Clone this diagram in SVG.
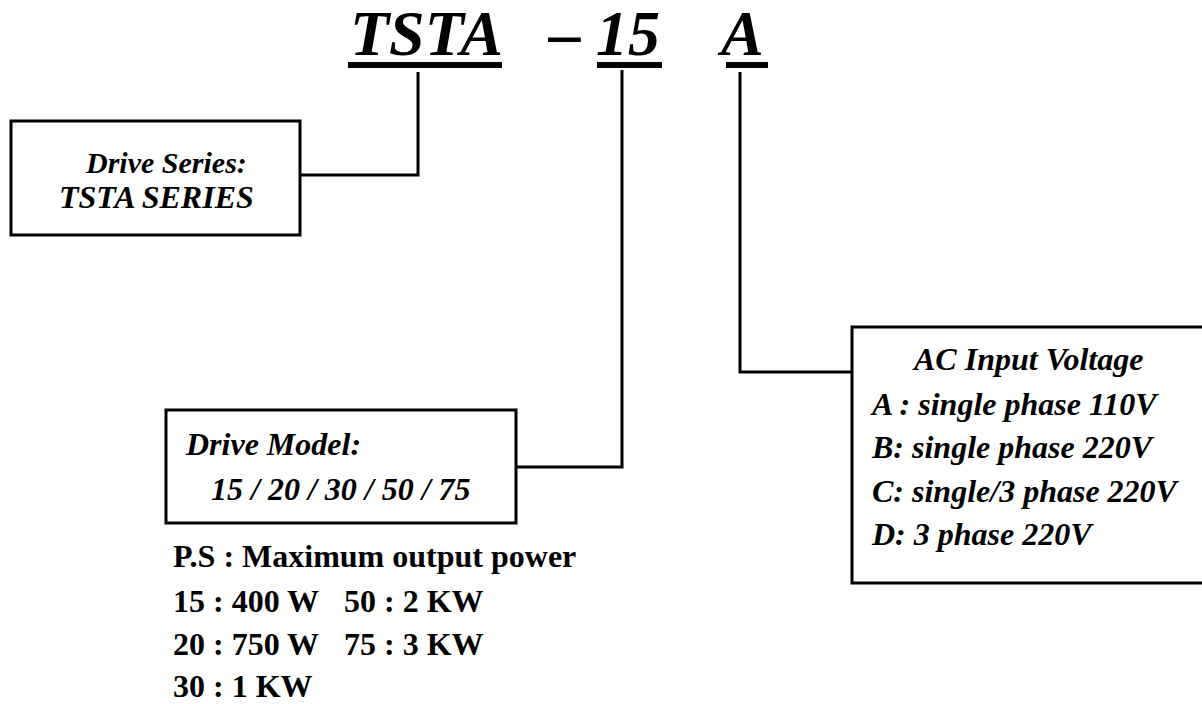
<svg xmlns="http://www.w3.org/2000/svg" width="1202" height="704" viewBox="0 0 1202 704">
<style>
.bi{font-family:"Liberation Serif","Times New Roman",serif;font-weight:bold;font-style:italic;fill:#000;font-size:32px}
.b{font-family:"Liberation Serif","Times New Roman",serif;font-weight:bold;fill:#000;font-size:32px}
.t{font-size:64px}
.s30{font-size:30px}
.box{fill:#fff;stroke:#000;stroke-width:3}
.con{fill:none;stroke:#000;stroke-width:3}
.ul{stroke:#000;stroke-width:6}
</style>
<rect width="1202" height="704" fill="#fff"/>
<g id="title">
<text class="bi t" x="350" y="55">TSTA</text>
<text class="bi t" x="549" y="55">–</text>
<text class="bi t" x="596" y="55">15</text>
<text class="bi t" x="721" y="55">A</text>
<line class="ul" x1="348" y1="65" x2="502" y2="65"/>
<line class="ul" x1="597" y1="65" x2="662" y2="65"/>
<line class="ul" x1="726" y1="65" x2="768" y2="65"/>
</g>
<g id="connectors">
<polyline class="con" points="418,72 418,175 300,175"/>
<polyline class="con" points="622,70 622,467 515,467"/>
<polyline class="con" points="740,72 740,372 852,372"/>
</g>
<g id="drive-series">
<rect class="box" x="11" y="121" width="289" height="114"/>
<text class="bi s30" x="86" y="173">Drive Series:</text>
<text class="bi" x="59" y="208">TSTA SERIES</text>
</g>
<g id="drive-model">
<rect class="box" x="166" y="410" width="350" height="113"/>
<text class="bi" x="186" y="455">Drive Model:</text>
<text class="bi" x="211" y="500">15 / 20 / 30 / 50 / 75</text>
</g>
<g id="power-note">
<text class="b" x="173" y="567">P.S : Maximum output power</text>
<text class="b" x="173" y="612">15 : 400 W</text>
<text class="b" x="344" y="612">50 : 2 KW</text>
<text class="b" x="173" y="655">20 : 750 W</text>
<text class="b" x="344" y="655">75 : 3 KW</text>
<text class="b" x="173" y="697">30 : 1 KW</text>
</g>
<g id="ac-input">
<rect class="box" x="852" y="327" width="360" height="256"/>
<text class="bi" x="914" y="370">AC Input Voltage</text>
<text class="bi" x="872" y="415">A : single phase 110V</text>
<text class="bi" x="872" y="458">B: single phase 220V</text>
<text class="bi" x="872" y="502">C: single/3 phase 220V</text>
<text class="bi" x="872" y="545">D: 3 phase 220V</text>
</g>
</svg>
